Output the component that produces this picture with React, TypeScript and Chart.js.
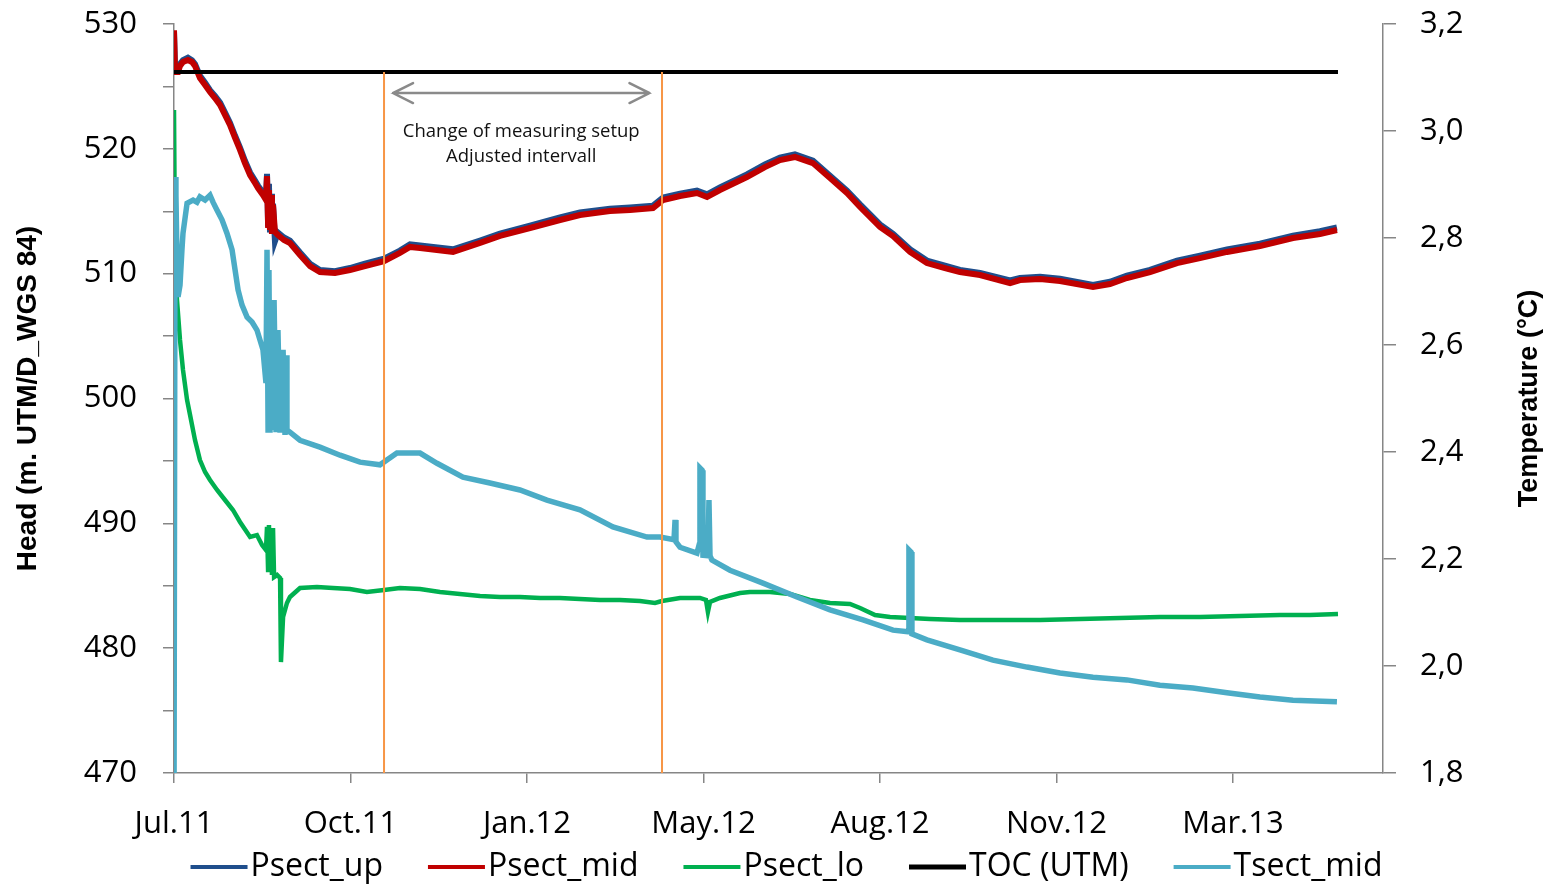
import React, { useEffect, useRef } from "react";
import { Chart, registerables } from "chart.js";

Chart.register(...registerables);

// ---- axis ticks ----
const xTickLabels = ["Jul.11", "Oct.11", "Jan.12", "May.12", "Aug.12", "Nov.12", "Mar.13"];
const X_TICK_STEP = 100; // days between labelled ticks
const X_MAX = 685; // days

// ---- Psect_up / Psect_mid (head, m) ----
const pDays = [0, 0.6, 2.3, 3.4, 5.1, 7.9, 10.2, 11.9, 14.7, 17.6, 20.4, 23.2, 26.1, 28.9, 31.7, 34.6, 37.4, 40.2, 43.1, 45.9, 47.6, 50.4, 52.1, 52.7, 53.3, 53.8, 54.4, 55.0, 55.5, 56.1, 57.2, 58.9, 62.3, 65.7, 71.4, 77.1, 82.7, 91.2, 99.7, 108.2, 119.0, 128.0, 133.7, 139.4, 158.1, 173.4, 184.7, 201.7, 218.7, 230.0, 247.0, 258.4, 271.4, 277.1, 286.7, 296.3, 302.0, 309.3, 324.6, 334.8, 343.3, 351.8, 362.0, 371.7, 381.3, 388.7, 400.0, 407.4, 417.0, 426.6, 436.8, 445.3, 456.7, 473.7, 479.3, 490.7, 502.0, 520.7, 530.3, 539.9, 553.0, 568.3, 581.3, 596.6, 615.3, 634.0, 649.3, 658.9];
const psectMid = [529.5, 526.15, 526.15, 526.64, 526.96, 527.12, 526.96, 526.64, 525.67, 525.11, 524.55, 524.07, 523.51, 522.71, 521.91, 520.87, 519.91, 518.86, 517.9, 517.26, 516.86, 516.3, 515.9, 517.82, 513.9, 516.7, 513.5, 516.3, 513.18, 515.5, 513.34, 513.1, 512.7, 512.46, 511.5, 510.61, 510.13, 510.05, 510.29, 510.61, 511.01, 511.66, 512.14, 512.06, 511.74, 512.46, 513.02, 513.66, 514.3, 514.7, 515.02, 515.1, 515.26, 515.9, 516.22, 516.46, 516.14, 516.7, 517.74, 518.54, 519.1, 519.35, 518.86, 517.66, 516.46, 515.34, 513.74, 513.02, 511.74, 510.85, 510.45, 510.13, 509.89, 509.25, 509.49, 509.57, 509.41, 508.93, 509.17, 509.65, 510.13, 510.85, 511.25, 511.74, 512.22, 512.86, 513.18, 513.5];
const psectUp = [529.4, 526.3, 526.3, 526.8, 527.1, 527.3, 527.1, 526.8, 525.85, 525.3, 524.7, 524.25, 523.7, 522.9, 522.1, 521.05, 520.1, 519.05, 518.1, 517.45, 517.05, 516.5, 516.1, 518.0, 514.0, 517.2, 513.3, 516.4, 513.4, 515.6, 512.6, 513.3, 512.9, 512.65, 511.7, 510.8, 510.3, 510.2, 510.45, 510.8, 511.2, 511.85, 512.35, 512.25, 511.95, 512.65, 513.2, 513.85, 514.5, 514.9, 515.2, 515.3, 515.45, 516.1, 516.4, 516.65, 516.35, 516.9, 517.95, 518.75, 519.3, 519.55, 519.05, 517.85, 516.65, 515.55, 513.95, 513.2, 511.95, 511.05, 510.65, 510.3, 510.05, 509.45, 509.65, 509.75, 509.6, 509.1, 509.35, 509.85, 510.3, 511.05, 511.45, 511.95, 512.4, 513.05, 513.4, 513.7];

// ---- Psect_lo (head, m) ----
const loDays = [0, 0.6, 1.7, 3.4, 5.1, 7.4, 9.1, 11.9, 14.7, 17.6, 20.4, 24.4, 28.9, 33.4, 37.4, 43.1, 47.0, 49.9, 52.1, 52.7, 53.3, 53.8, 54.4, 55.0, 55.5, 56.1, 56.7, 58.4, 60.1, 60.6, 61.8, 64.0, 65.7, 71.4, 81.0, 90.1, 99.7, 109.3, 119.0, 128.0, 139.4, 150.7, 162.0, 173.4, 184.7, 196.0, 207.4, 218.7, 230.0, 241.4, 252.7, 264.0, 272.5, 276.5, 286.7, 298.0, 301.4, 302.5, 303.7, 309.3, 320.7, 326.3, 337.7, 349.0, 354.7, 360.3, 371.7, 383.0, 388.7, 397.2, 405.7, 417.0, 428.3, 445.3, 468.0, 490.7, 513.3, 536.0, 558.6, 581.3, 604.0, 626.6, 643.6, 659.5];
const psectLo = [523.11, 510.69, 507.89, 504.69, 502.28, 499.88, 498.68, 496.67, 495.07, 494.11, 493.47, 492.67, 491.87, 491.07, 490.11, 488.91, 489.06, 488.26, 487.86, 489.71, 486.26, 489.87, 486.1, 489.47, 485.86, 489.63, 485.7, 485.86, 485.62, 478.89, 482.5, 483.62, 484.1, 484.82, 484.9, 484.82, 484.74, 484.5, 484.66, 484.82, 484.74, 484.5, 484.34, 484.18, 484.1, 484.1, 484.02, 484.02, 483.94, 483.86, 483.86, 483.78, 483.62, 483.78, 484.02, 484.02, 483.86, 482.9, 483.7, 484.02, 484.42, 484.5, 484.5, 484.34, 484.1, 483.86, 483.62, 483.54, 483.22, 482.66, 482.5, 482.42, 482.34, 482.25, 482.25, 482.25, 482.34, 482.42, 482.5, 482.5, 482.58, 482.66, 482.66, 482.74];

// ---- TOC (UTM) ----
const tocDays = [0, 659.5];
const tocHead = [526.15, 526.15];

// ---- Tsect_mid (temperature, °C) ----
const tDays = [0, 0.6, 1.1, 1.7, 2.3, 3.4, 4.5, 5.1, 7.4, 10.8, 13.0, 14.7, 17.6, 20.4, 22.1, 24.4, 27.2, 30.0, 32.9, 36.3, 38.5, 41.4, 44.2, 47.0, 50.4, 52.1, 52.7, 53.3, 53.8, 54.4, 55.0, 55.5, 56.7, 57.8, 58.9, 60.1, 61.8, 62.9, 63.5, 64.0, 65.7, 71.4, 82.7, 94.1, 105.4, 116.7, 126.3, 139.4, 149.0, 163.7, 179.0, 196.0, 211.3, 230.0, 248.7, 268.0, 275.4, 283.3, 283.9, 284.4, 286.7, 296.3, 297.5, 298.0, 299.2, 299.7, 302.5, 303.1, 303.7, 304.8, 315.0, 333.7, 353.0, 371.7, 390.4, 407.4, 415.9, 416.4, 417.6, 418.1, 426.6, 445.3, 464.0, 483.3, 502.0, 520.7, 539.9, 558.6, 577.3, 596.6, 615.3, 634.0, 658.9];
const tsectMid = [1.7, 2.914, 2.88, 2.759, 2.69, 2.712, 2.778, 2.809, 2.865, 2.871, 2.867, 2.877, 2.871, 2.88, 2.867, 2.852, 2.834, 2.809, 2.778, 2.703, 2.675, 2.652, 2.643, 2.628, 2.591, 2.529, 2.778, 2.441, 2.74, 2.436, 2.684, 2.441, 2.684, 2.437, 2.628, 2.436, 2.591, 2.432, 2.581, 2.441, 2.437, 2.422, 2.409, 2.394, 2.381, 2.376, 2.398, 2.398, 2.379, 2.353, 2.342, 2.329, 2.31, 2.292, 2.26, 2.241, 2.241, 2.236, 2.273, 2.232, 2.222, 2.211, 2.226, 2.37, 2.366, 2.207, 2.206, 2.31, 2.206, 2.198, 2.179, 2.155, 2.129, 2.105, 2.086, 2.067, 2.064, 2.217, 2.213, 2.06, 2.049, 2.03, 2.011, 1.998, 1.987, 1.979, 1.974, 1.964, 1.959, 1.95, 1.942, 1.936, 1.933];

// ---- setup change markers & note ----
const setupChangeDays = [119.0, 276.5];
const markerHead = [526.15, 470];
const arrowDays = [124.1, 269.4];
const arrowHead = 524.47;
const noteLines = ["Change of measuring setup", "Adjusted intervall"];
const noteHeads = [521.35, 519.34];

const pts = (xs: number[], ys: number[]) =>
  xs.slice(0, Math.min(xs.length, ys.length)).map((x, i) => ({ x, y: ys[i] }));

const TICK_FONT = { family: '"Open Sans", "Noto Sans", sans-serif', size: 31 };
const AXIS_GREY = "#868686";

const legendPlugin = {
  id: "bottomLegend",
  afterDraw(chart: any) {
    const ctx = chart.ctx as CanvasRenderingContext2D;
    const ds = chart.data.datasets.filter((d: any) => d.inLegend);
    ctx.save();
    ctx.font = '32px "Open Sans", "Noto Sans", sans-serif';
    const lineLen = 57, gap = 3, itemGap = 45;
    const widths = ds.map((d: any) => lineLen + gap + ctx.measureText(d.label).width);
    const total = widths.reduce((a: number, b: number) => a + b, 0) + itemGap * (ds.length - 1);
    let x = (chart.width - total) / 2 + 8;
    const y = 867;
    ds.forEach((d: any, i: number) => {
      ctx.strokeStyle = d.borderColor;
      ctx.lineWidth = d.label === "TOC (UTM)" ? 5 : 4;
      ctx.beginPath();
      ctx.moveTo(x, y);
      ctx.lineTo(x + lineLen, y);
      ctx.stroke();
      ctx.fillStyle = "#000";
      ctx.textBaseline = "middle";
      ctx.textAlign = "left";
      ctx.fillText(d.label, x + lineLen + gap, y);
      x += widths[i] + itemGap;
    });
    ctx.restore();
  },
};

const rightTitlePlugin = {
  id: "rightTitle",
  afterDraw(chart: any) {
    const ctx = chart.ctx as CanvasRenderingContext2D;
    const a = chart.chartArea;
    ctx.save();
    ctx.translate(chart.width - 27, (a.top + a.bottom) / 2);
    ctx.rotate(-Math.PI / 2);
    ctx.font = 'bold 27px "Liberation Sans", Arial, sans-serif';
    ctx.fillStyle = "#000";
    ctx.textAlign = "center";
    ctx.textBaseline = "middle";
    ctx.fillText("Temperature (°C)", 0, 0);
    ctx.restore();
  },
};

const notePlugin = {
  id: "note",
  afterDatasetsDraw(chart: any) {
    const ctx = chart.ctx as CanvasRenderingContext2D;
    const xs = chart.scales.x, ys = chart.scales.y;
    const x0 = xs.getPixelForValue(arrowDays[0]);
    const x1 = xs.getPixelForValue(arrowDays[1]);
    const yy = ys.getPixelForValue(arrowHead);
    ctx.save();
    ctx.strokeStyle = "#8a8a8a";
    ctx.lineWidth = 2.5;
    ctx.lineCap = "round";
    ctx.beginPath();
    ctx.moveTo(x0, yy);
    ctx.lineTo(x1, yy);
    ctx.moveTo(x0 + 20, yy - 10);
    ctx.lineTo(x0, yy);
    ctx.lineTo(x0 + 20, yy + 10);
    ctx.moveTo(x1 - 20, yy - 10);
    ctx.lineTo(x1, yy);
    ctx.lineTo(x1 - 20, yy + 10);
    ctx.stroke();
    ctx.font = '18.5px "Open Sans", "Noto Sans", sans-serif';
    ctx.fillStyle = "#111";
    ctx.textAlign = "center";
    ctx.textBaseline = "middle";
    const cx = (x0 + x1) / 2;
    noteLines.forEach((t, i) => ctx.fillText(t, cx, ys.getPixelForValue(noteHeads[i])));
    ctx.restore();
  },
};

const noScalePadding = (s: any) => {
  s.paddingTop = 0;
  s.paddingBottom = 0;
  s.paddingLeft = 0;
  s.paddingRight = 0;
};

export default function App() {
  const ref = useRef<HTMLCanvasElement>(null);
  useEffect(() => {
    if (!ref.current) return;
    const line = { pointRadius: 0, tension: 0, fill: false };
    const chart = new Chart(ref.current, {
      type: "line",
      data: {
        datasets: [
          { ...line, label: "Psect_up", inLegend: true, data: pts(pDays, psectUp), borderColor: "#1F4E8C", borderWidth: 6, yAxisID: "y", order: 4 },
          { ...line, label: "Psect_mid", inLegend: true, data: pts(pDays, psectMid), borderColor: "#C00000", borderWidth: 6, yAxisID: "y", order: 3 },
          { ...line, label: "Psect_lo", inLegend: true, data: pts(loDays, psectLo), borderColor: "#00B050", borderWidth: 4.5, yAxisID: "y", order: 6 },
          { ...line, label: "TOC (UTM)", inLegend: true, data: pts(tocDays, tocHead), borderColor: "#000000", borderWidth: 4, yAxisID: "y", order: 2 },
          { ...line, label: "Tsect_mid", inLegend: true, data: pts(tDays, tsectMid), borderColor: "#4BACC6", borderWidth: 5.5, yAxisID: "y1", order: 5 },
          { ...line, label: "", data: pts([setupChangeDays[0], setupChangeDays[0]], markerHead), borderColor: "#F79646", borderWidth: 2, yAxisID: "y", order: 1 },
          { ...line, label: "", data: pts([setupChangeDays[1], setupChangeDays[1]], markerHead), borderColor: "#F79646", borderWidth: 2, yAxisID: "y", order: 1 },
        ] as any,
      },
      options: {
        animation: false,
        responsive: false,
        maintainAspectRatio: false,
        layout: { padding: { top: 24, left: 0, right: 0, bottom: 0 } },
        plugins: { legend: { display: false }, tooltip: { enabled: false } },
        scales: {
          x: {
            type: "linear",
            min: 0,
            max: X_MAX,
            afterFit: (s: any) => { s.height = 116; noScalePadding(s); },
            ticks: {
              stepSize: X_TICK_STEP,
              includeBounds: false,
              autoSkip: false,
              maxRotation: 0,
              padding: 23,
              color: "#000",
              font: TICK_FONT,
              callback: (v: any) => xTickLabels[Math.round(Number(v) / X_TICK_STEP)] ?? "",
            },
            grid: { drawOnChartArea: false, tickLength: 10, color: AXIS_GREY, lineWidth: 1.5 },
            border: { color: AXIS_GREY, width: 1.5 },
          },
          y: {
            position: "left",
            min: 470,
            max: 530,
            afterFit: (s: any) => { s.width = 174; noScalePadding(s); },
            ticks: {
              stepSize: 5,
              autoSkip: false,
              padding: 26,
              color: "#000",
              font: TICK_FONT,
              callback: (v: any) => (Number(v) % 10 === 0 ? String(v) : ""),
            },
            grid: { drawOnChartArea: false, tickLength: 11, color: AXIS_GREY, lineWidth: 1.5 },
            border: { color: AXIS_GREY, width: 1.5 },
            title: {
              display: true,
              text: "Head (m. UTM/D_WGS 84)",
              color: "#000",
              font: { family: '"Liberation Sans", Arial, sans-serif', size: 28, weight: "bold" },
              padding: { top: 11, bottom: 0 },
            },
          },
          y1: {
            position: "right",
            min: 1.8,
            max: 3.2,
            afterFit: (s: any) => { s.width = 174; noScalePadding(s); },
            ticks: {
              stepSize: 0.2,
              autoSkip: false,
              padding: 24,
              color: "#000",
              font: TICK_FONT,
              callback: (v: any) => Number(v).toFixed(1).replace(".", ","),
            },
            grid: { drawOnChartArea: false, tickLength: 13, color: AXIS_GREY, lineWidth: 1.5 },
            border: { color: AXIS_GREY, width: 1.5 },
          },
        },
      } as any,
      plugins: [notePlugin, legendPlugin, rightTitlePlugin],
    });
    return () => chart.destroy();
  }, []);
  return (
    <div style={{ position: "fixed", left: 0, top: 0, width: 1557, height: 889, background: "#fff" }}>
      <canvas ref={ref} width={1557} height={889} style={{ display: "block", width: 1557, height: 889 }} />
    </div>
  );
}
